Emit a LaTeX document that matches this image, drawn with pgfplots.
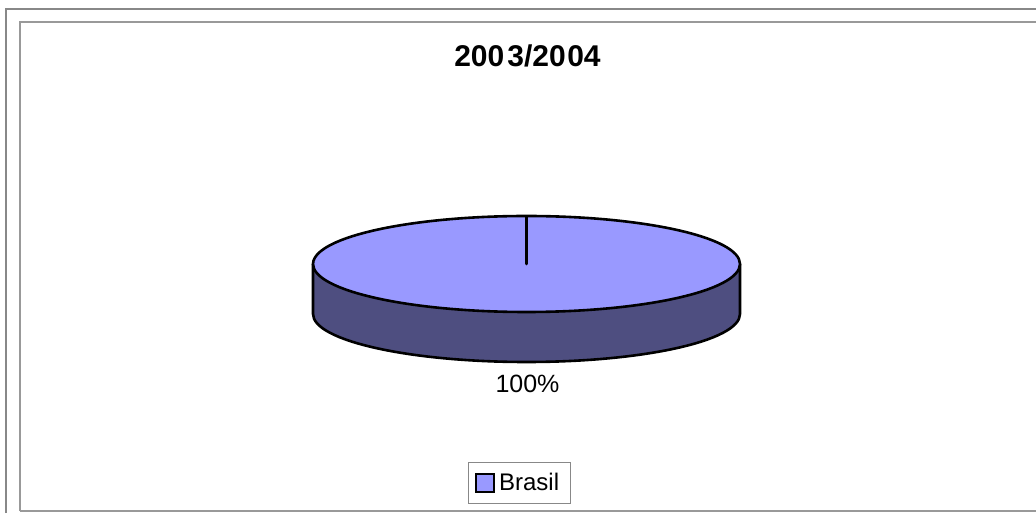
\documentclass[border=0pt]{standalone}
\usepackage{pgfplots}
\pgfplotsset{compat=1.18}
\usepackage{pgfplotstable}
\usepackage{fontspec}
\setmainfont{Liberation Sans}
\definecolor{slicetop}{RGB}{153,153,255}
\definecolor{sliceside}{RGB}{78,78,128}
\definecolor{framegray}{RGB}{136,136,136}
\pgfplotstableread{
country share
Brasil 100
}\piedata
\begin{document}
\begin{tikzpicture}
\pgfplotstablegetelem{0}{share}\of\piedata
\edef\sharev{\pgfplotsretval}
\pgfmathsetmacro\sliceend{90-3.6*\sharev}
\begin{axis}[
  scale only axis, width=518pt, height=256.5pt,
  xmin=0, xmax=1036, ymin=0, ymax=513,
  axis lines=none, clip=false,
  legend style={at={(axis cs:519,30)}, anchor=center, draw=framegray,
    font=\fontsize{12pt}{14pt}\selectfont, inner xsep=3.5pt, inner ysep=3pt,
    legend cell align=left},
]
\coordinate (bl) at (axis cs:0,0);
\coordinate (tr) at (axis cs:1036,513);
% frames
\draw[framegray, line width=0.6pt] (axis cs:6,0) -- (axis cs:6,504) -- (axis cs:1036,504);
\draw[black!40, line width=0.9pt] (axis cs:20,2) -- (axis cs:20,491) -- (axis cs:1036,491);
\draw[black!40, line width=0.9pt] (axis cs:20,2) -- (axis cs:1036,2);
% side of pie
\fill[sliceside] (axis cs:313,249) -- (axis cs:313,199) arc[start angle=180,end angle=360,x radius=106.75pt,y radius=24pt] -- (axis cs:740,249) arc[start angle=360,end angle=180,x radius=106.75pt,y radius=24pt] -- cycle;
\draw[black, line width=1.3pt] (axis cs:313,249) -- (axis cs:313,199) arc[start angle=180,end angle=360,x radius=106.75pt,y radius=24pt] -- (axis cs:740,249);
% top of slice
\filldraw[fill=slicetop, draw=black, line width=1.3pt, line join=round] (axis cs:526.5,249) -- (axis cs:526.5,297) arc[start angle=90,end angle=\sliceend,x radius=106.75pt,y radius=24pt] -- cycle;
% labels
\node[anchor=base, font=\fontsize{15pt}{17pt}\selectfont\bfseries] at (axis cs:527.5,446) {200\kern1.5pt3/20\kern0.8pt04};
\node[anchor=base, font=\fontsize{12.5pt}{15pt}\selectfont] at (axis cs:527.5,120) {\sharev\%};
\addlegendimage{legend image code/.code={\draw[fill=slicetop,draw=black,line width=1.1pt] (0.1em,-0.45em) rectangle (1.0em,0.45em);}}
\addlegendentry{Brasil}
\end{axis}
\pgfresetboundingbox
\path[use as bounding box] (bl) rectangle (tr);
\end{tikzpicture}
\end{document}
